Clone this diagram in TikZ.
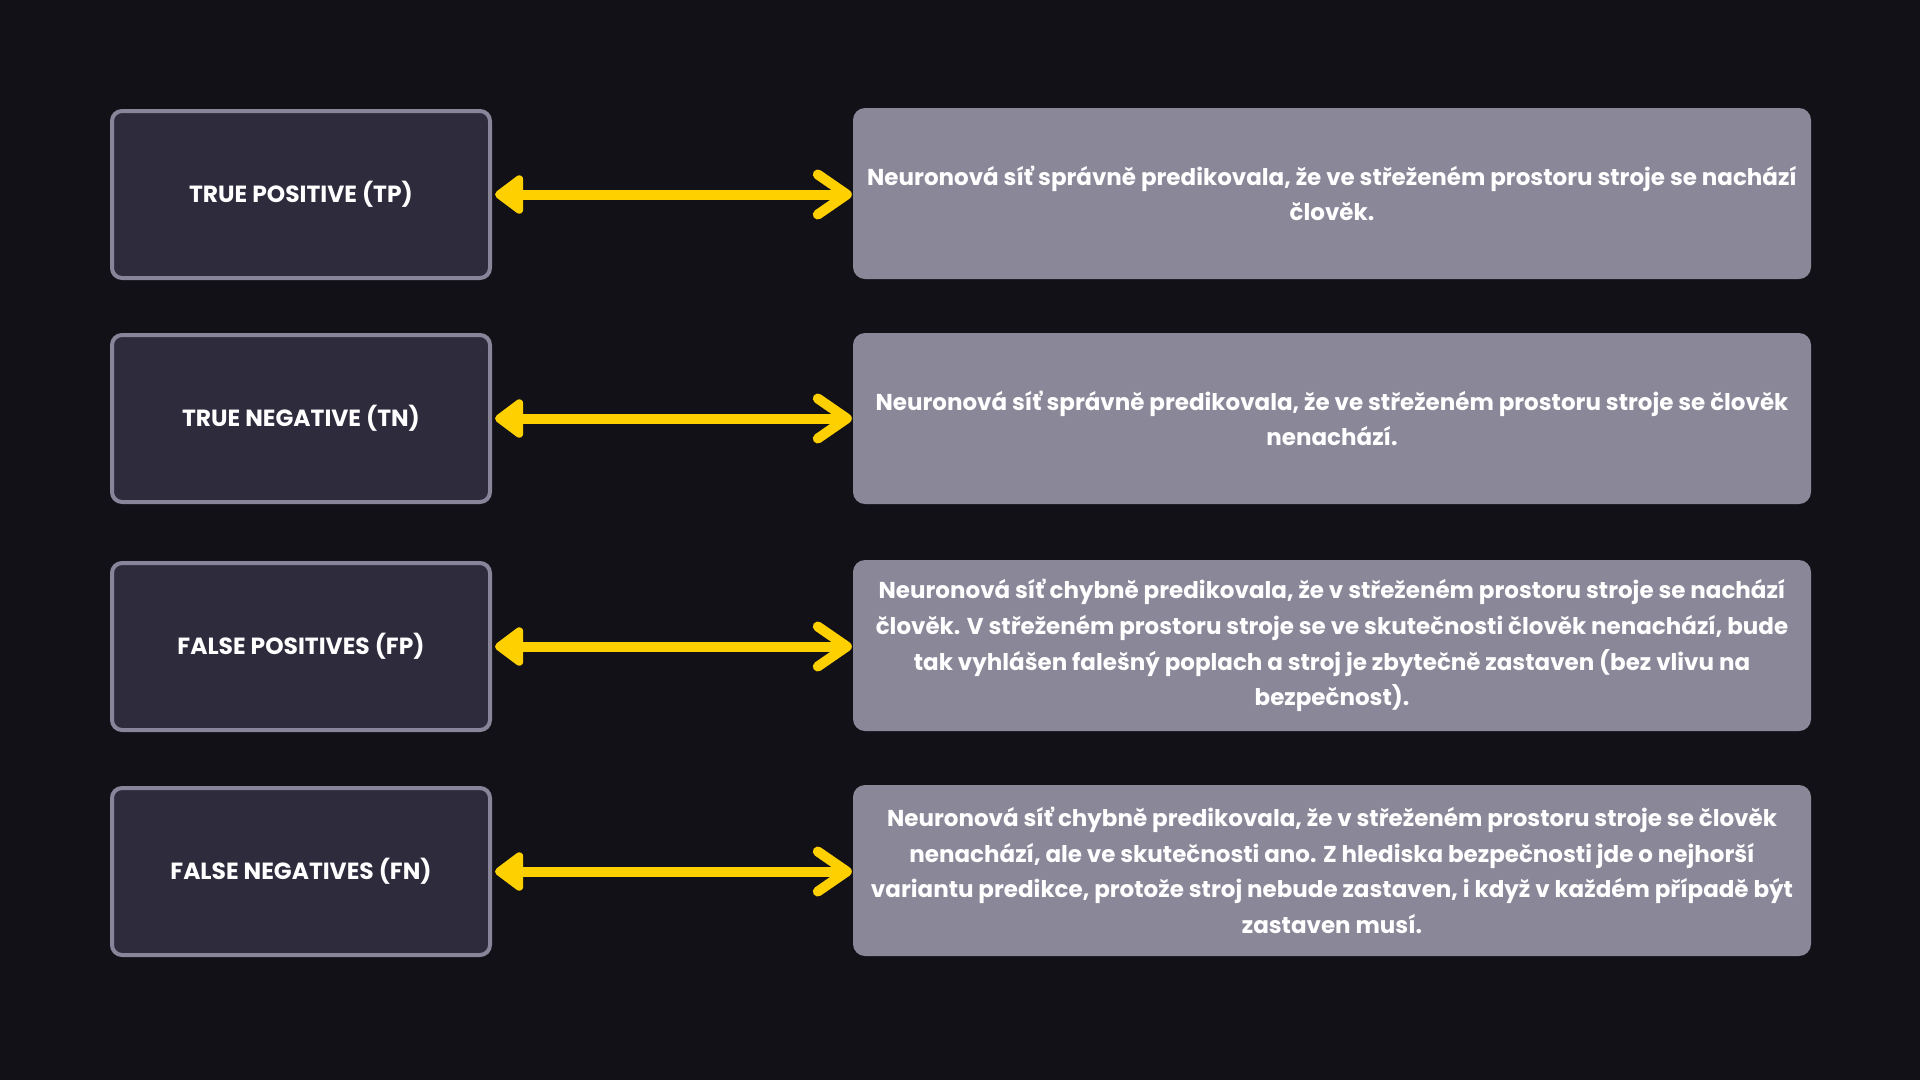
\documentclass[tikz,border=0pt]{standalone}
\usepackage{fontspec}
\setmainfont{Poppins}
\usetikzlibrary{arrows.meta}
\definecolor{bg}{HTML}{121118}
\definecolor{lfill}{HTML}{2E2B3D}
\definecolor{lborder}{HTML}{88859A}
\definecolor{rfill}{HTML}{8A8799}
\definecolor{ayellow}{HTML}{FFD000}
\tikzset{
  labelbox/.style={draw=lborder, fill=lfill, line width=4pt, rounded corners=10pt,
    minimum width=378pt, minimum height=167pt, inner sep=0pt, text=white,
    font=\fontsize{23.4}{28}\selectfont\bfseries},
  descbox/.style={fill=rfill, rounded corners=12pt, minimum width=958pt,
    minimum height=171pt, inner sep=0pt, text=white, align=center,
    font=\fontsize{23}{35.8}\selectfont\bfseries},
  link/.style={draw=ayellow, line width=10pt,
    {Triangle[round, length=31pt, width=44pt]}-{Straight Barb[round, length=29pt, width=40pt]},
    shorten <=0pt, shorten >=0pt},
}
\begin{document}
\begin{tikzpicture}[x=1pt,y=-1pt]
\fill[bg] (0,0) rectangle (1920,1080);
\useasboundingbox (0,0) rectangle (1920,1080);
\node[labelbox] (l1) at (301,194.5) {TRUE POSITIVE (TP)};
\node[labelbox] (l2) at (301,418.5) {TRUE NEGATIVE (TN)};
\node[labelbox] (l3) at (301,646.5) {FALSE POSITIVES (FP)};
\node[labelbox] (l4) at (301,871.5) {FALSE NEGATIVES (FN)};
\node[descbox] (r1) at (1332,193.5) {Neuronová síť správně predikovala, že ve střeženém prostoru stroje se nachází\\člověk.};
\node[descbox] (r2) at (1332,418.5) {Neuronová síť správně predikovala, že ve střeženém prostoru stroje se člověk\\nenachází.};
\node[descbox] (r3) at (1332,645.5) {Neuronová síť chybně predikovala, že v střeženém prostoru stroje se nachází\\člověk. V střeženém prostoru stroje se ve skutečnosti člověk nenachází, bude\\tak vyhlášen falešný poplach a stroj je zbytečně zastaven (bez vlivu na\\bezpečnost).};
\node[descbox] (r4) at (1332,870.5) {Neuronová síť chybně predikovala, že v střeženém prostoru stroje se člověk\\nenachází, ale ve skutečnosti ano. Z hlediska bezpečnosti jde o nejhorší\\variantu predikce, protože stroj nebude zastaven, i když v každém případě být\\zastaven musí.};
\foreach \i in {1,2,3,4}{
  \draw[link] ([xshift=3pt]l\i.east) -- ([xshift=-1pt]l\i.east -| r\i.west);
}
\end{tikzpicture}
\end{document}
